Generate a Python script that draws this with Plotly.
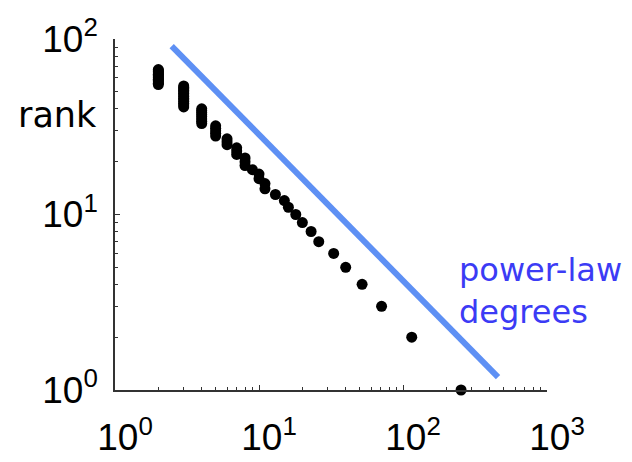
import plotly.graph_objects as go

# rank vs degree data
degree = [2]*13 + [3]*14 + [4]*8 + [5]*5 + [6]*3 + [7]*3 + [8]*3 + [9] + [10]*2 + [11]*2 + \
         [13, 15, 16, 18, 20, 23, 26, 33, 40, 52, 71, 115, 253]
rank = [55, 56, 57, 58, 59, 60, 61, 62, 63, 64, 65, 66, 67,
        41, 42, 43, 44, 45, 46, 47, 48, 49, 50, 51, 52, 53, 54,
        33, 34, 35, 36, 37, 38, 39, 40,
        28, 29, 30, 31, 32,
        25, 26, 27,
        22, 23, 24,
        19, 20, 21,
        18,
        16, 17,
        14, 15,
        13, 12, 11, 10, 9, 8, 7, 6, 5, 4, 3, 2, 1]

# power-law guide line endpoints
fit_x = [2.475, 457]
fit_y = [91.2, 1.185]

x_tickvals = [1, 10, 100, 1000]
x_ticktext = ["10<sup>0</sup>", "10<sup>1</sup>", "10<sup>2</sup>", "10<sup>3</sup>"]
y_tickvals = [1, 10, 100]
y_ticktext = ["10<sup>0</sup>", "10<sup>1</sup>", "10<sup>2</sup>"]
minor_x = [2, 3, 4, 5, 6, 7, 8, 9, 20, 30, 40, 50, 60, 70, 80, 90, 200, 300, 400, 500, 600, 700, 800, 900]
minor_y = [2, 3, 4, 5, 6, 7, 8, 9, 20, 30, 40, 50, 60, 70, 80, 90]

FONT = "Liberation Sans, Arial, sans-serif"
WIDE = "DejaVu Sans, sans-serif"

fig = go.Figure()
fig.add_trace(go.Scatter(x=fit_x, y=fit_y, mode="lines",
                         line=dict(color="#5e90f4", width=6), showlegend=False,
                         cliponaxis=False))
fig.add_trace(go.Scatter(x=degree, y=rank, mode="markers",
                         marker=dict(color="black", size=11, line=dict(width=0)),
                         showlegend=False, cliponaxis=False))

axis_common = dict(type="log", showgrid=False, zeroline=False, showline=True,
                   linecolor="#333", linewidth=1.5, ticks="inside", ticklen=5,
                   tickcolor="#333", tickwidth=1, mirror=False, automargin=False,
                   tickfont=dict(family=FONT, size=37, color="black"))

fig.update_layout(
    width=632, height=462,
    margin=dict(l=115, r=85, t=39, b=72, pad=0, autoexpand=False),
    paper_bgcolor="white", plot_bgcolor="white",
    xaxis=dict(range=[0, 3], tickmode="array", tickvals=x_tickvals, ticktext=x_ticktext,
               ticklabelstandoff=14, ticklabelshift=10,
               minor=dict(ticks="inside", ticklen=3, tickcolor="#333", tickmode="array",
                          tickvals=minor_x, showgrid=False),
               **axis_common),
    yaxis=dict(range=[0, 2], tickmode="array", tickvals=y_tickvals, ticktext=y_ticktext,
               ticklabelstandoff=8,
               minor=dict(ticks="inside", ticklen=3, tickcolor="#333", tickmode="array",
                          tickvals=minor_y, showgrid=False),
               **axis_common),
    annotations=[
        dict(text="rank", xref="paper", yref="paper", x=-0.134, y=0.783,
             xanchor="center", yanchor="middle", showarrow=False,
             font=dict(family=WIDE, size=35, color="black")),
        dict(text="power-law<br>degrees", xref="paper", yref="paper", x=0.792, y=0.283,
             xanchor="left", yanchor="middle", align="left", showarrow=False,
             font=dict(family=WIDE, size=32, color="#3b3bf5")),
    ],
)

fig.write_html("out.html")
